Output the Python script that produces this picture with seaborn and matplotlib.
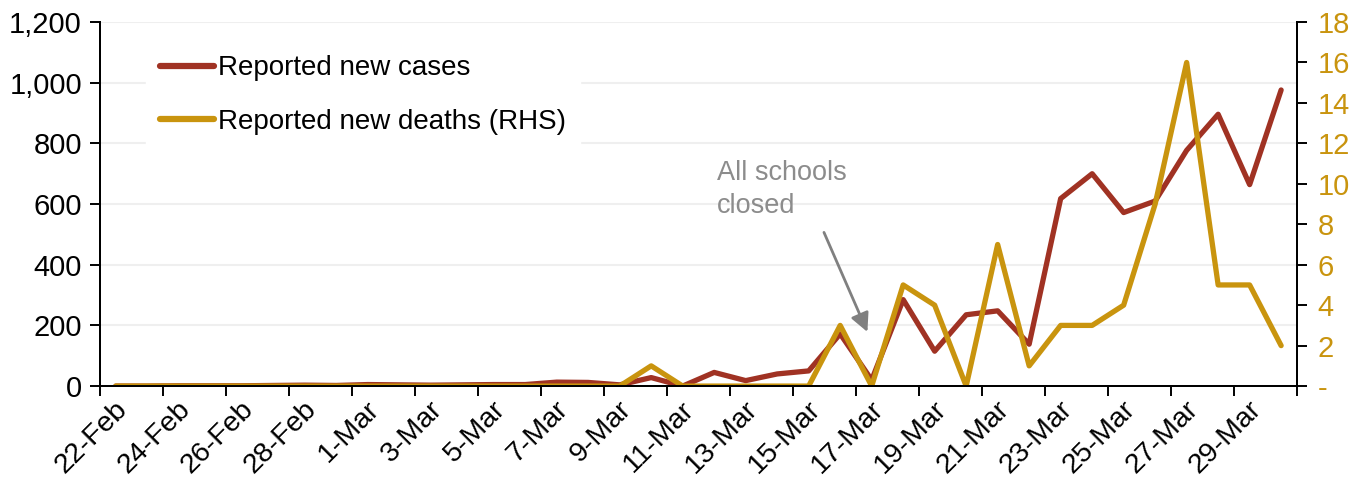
import pandas as pd
import matplotlib.pyplot as plt
import seaborn as sns

# Datos (22-Feb a 30-Mar)
fechas = ["22-Feb", "23-Feb", "24-Feb", "25-Feb", "26-Feb", "27-Feb", "28-Feb", "29-Feb",
          "1-Mar", "2-Mar", "3-Mar", "4-Mar", "5-Mar", "6-Mar", "7-Mar", "8-Mar",
          "9-Mar", "10-Mar", "11-Mar", "12-Mar", "13-Mar", "14-Mar", "15-Mar", "16-Mar",
          "17-Mar", "18-Mar", "19-Mar", "20-Mar", "21-Mar", "22-Mar", "23-Mar", "24-Mar",
          "25-Mar", "26-Mar", "27-Mar", "28-Mar", "29-Mar", "30-Mar"]
casos = [0, 0, 1, 1, 1, 2, 3, 2,
         5, 4, 3, 4, 5, 5, 13, 12,
         4, 28, 0, 45, 18, 40, 50, 172,
         20, 285, 115, 235, 248, 138, 618, 700,
         572, 610, 777, 896, 664, 976]
muertes = [0, 0, 0, 0, 0, 0, 0, 0,
           0, 0, 0, 0, 0, 0, 0, 0,
           0, 1, 0, 0, 0, 0, 0, 3,
           0, 5, 4, 0, 7, 1, 3, 3,
           4, 9, 16, 5, 5, 2]

datos = pd.DataFrame({"Fecha": fechas, "Casos": casos, "Muertes": muertes})
datos["x"] = range(len(datos))

rojo = "#A03223"
amarillo = "#C9940E"
fs = 21

sns.set_style("white")
plt.rcParams["font.family"] = ["Liberation Sans", "DejaVu Sans"]
plt.rcParams["text.color"] = "black"
plt.rcParams["xtick.color"] = "black"
plt.rcParams["ytick.color"] = "black"

fig = plt.figure(figsize=(13.57, 4.79), dpi=100)
ax = fig.add_axes([0.0737, 0.194, 0.882, 0.760])
ax2 = ax.twinx()

sns.lineplot(data=datos, x="x", y="Casos", ax=ax, color=rojo, lw=3.8,
             solid_capstyle="round", label="Reported new cases", legend=False)
sns.lineplot(data=datos, x="x", y="Muertes", ax=ax2, color=amarillo, lw=3.8,
             solid_capstyle="round", label="Reported new deaths (RHS)", legend=False)

# Eje izquierdo
ax.set_ylim(0, 1200)
ax.set_yticks(range(0, 1201, 200))
ax.set_yticklabels([f"{v:,}" for v in range(0, 1201, 200)])
ax.yaxis.grid(True, color="#efefef", lw=1.5)
ax.set_axisbelow(True)
ax.set_ylabel("")
ax.set_xlabel("")

# Eje derecho
ax2.set_ylim(0, 18)
ax2.set_yticks(range(0, 19, 2))
ax2.set_yticklabels(["-"] + [str(v) for v in range(2, 19, 2)])
ax2.set_ylabel("")
ax2.grid(False)

# Eje x estilo categorias
n = len(fechas)
ax.set_xlim(-0.5, n - 0.5)
ax.set_xticks([i - 0.5 for i in range(0, n + 1, 2)])
ax.set_xticklabels([])
ax.set_xticks([i + 0.25 for i in range(0, n, 2)], minor=True)
ax.set_xticklabels(fechas[::2], minor=True, rotation=45, ha="right",
                   va="center", rotation_mode="anchor")

for a in (ax, ax2):
    for s in a.spines.values():
        s.set_color("black")
        s.set_linewidth(1.4)
    a.spines["top"].set_visible(False)

ax.tick_params(axis="y", which="major", direction="out", length=7, width=1.4,
               labelsize=fs, color="black", labelcolor="black", left=True, pad=6)
ax.tick_params(axis="x", which="major", direction="out", length=7, width=1.4,
               color="black", bottom=True)
ax.tick_params(axis="x", which="minor", length=0, labelsize=fs - 0.5,
               labelcolor="black", pad=14)
ax2.tick_params(axis="y", direction="out", length=7, width=1.4, labelsize=fs,
                labelcolor=amarillo, color="black", right=True, pad=8)

# Anotacion
ax.text(19.1, 745, "All schools\nclosed", color="#8c8c8c", fontsize=19.5,
        va="top", ha="left", linespacing=1.35)
ax.annotate("", xy=(23.9, 170), xytext=(22.45, 515),
            arrowprops=dict(arrowstyle="-|>", color="#808080", lw=2,
                            mutation_scale=28))

# Leyenda
h1, l1 = ax.get_legend_handles_labels()
h2, l2 = ax2.get_legend_handles_labels()
leg = ax2.legend(h1 + h2, l1 + l2, loc="upper left", bbox_to_anchor=(0.027, 0.985),
                 fontsize=20, frameon=True, facecolor="white", edgecolor="white",
                 framealpha=1, handlelength=1.95, handletextpad=0.15,
                 labelspacing=1.0, borderpad=0.5, fancybox=False,
                 labelcolor="black")
for linea in leg.get_lines():
    linea.set_linewidth(4.5)

fig.savefig("out.png", dpi=100)
